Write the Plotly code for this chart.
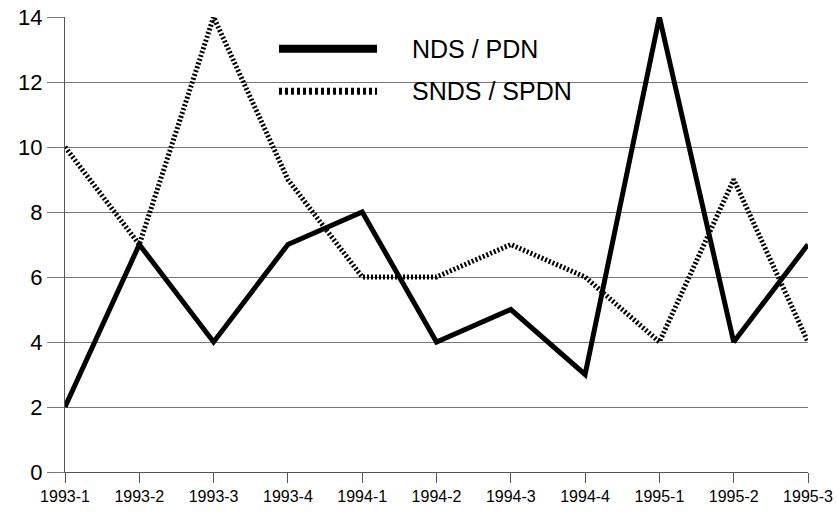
import plotly.graph_objects as go

categories = ["1993-1", "1993-2", "1993-3", "1993-4", "1994-1", "1994-2",
              "1994-3", "1994-4", "1995-1", "1995-2", "1995-3"]
nds_pdn = [2, 7, 4, 7, 8, 4, 5, 3, 14, 4, 7]
snds_spdn = [10, 7, 14, 9, 6, 6, 7, 6, 4, 9, 4]
y_ticks = [0, 2, 4, 6, 8, 10, 12, 14]

FONT = "Liberation Sans"

fig = go.Figure()
fig.add_trace(go.Scatter(x=categories, y=snds_spdn, mode="lines", name="SNDS / SPDN",
                         line=dict(color="black", width=5, dash="2px,2px"), showlegend=False))
fig.add_trace(go.Scatter(x=categories, y=nds_pdn, mode="lines", name="NDS / PDN",
                         line=dict(color="black", width=5), showlegend=False))

# legend drawn manually
fig.add_shape(type="line", xref="paper", yref="paper", x0=0.288, x1=0.420, y0=0.930, y1=0.930,
              line=dict(color="black", width=8))
fig.add_shape(type="line", xref="paper", yref="paper", x0=0.288, x1=0.420, y0=0.837, y1=0.837,
              line=dict(color="black", width=7, dash="3px,3px"))
fig.add_annotation(xref="paper", yref="paper", x=0.465, y=0.930, text="NDS / PDN",
                   showarrow=False, xanchor="left", yanchor="middle",
                   font=dict(size=25, color="black", family=FONT))
fig.add_annotation(xref="paper", yref="paper", x=0.465, y=0.837, text="SNDS / SPDN",
                   showarrow=False, xanchor="left", yanchor="middle",
                   font=dict(size=25, color="black", family=FONT))

fig.update_layout(
    width=837, height=513,
    margin=dict(l=65, r=29, t=17, b=41, autoexpand=False),
    paper_bgcolor="white", plot_bgcolor="white",
    font=dict(family=FONT, color="black"),
    xaxis=dict(type="category", range=[0, 10], showgrid=False, showline=True,
               linecolor="#555555", linewidth=1, ticks="outside", ticklen=10,
               tickcolor="#555555", tickfont=dict(size=16), zeroline=False,
               automargin=False),
    yaxis=dict(range=[0, 14.0001], tickvals=y_ticks, showgrid=True, gridcolor="#777777",
               gridwidth=1, showline=True, linecolor="#555555", linewidth=1,
               ticks="outside", ticklen=17, tickcolor="#777777",
               tickfont=dict(size=22), zeroline=False, automargin=False),
)
fig.write_html("out.html", config={"displayModeBar": False},
               post_script="document.body.style.margin='0';")
